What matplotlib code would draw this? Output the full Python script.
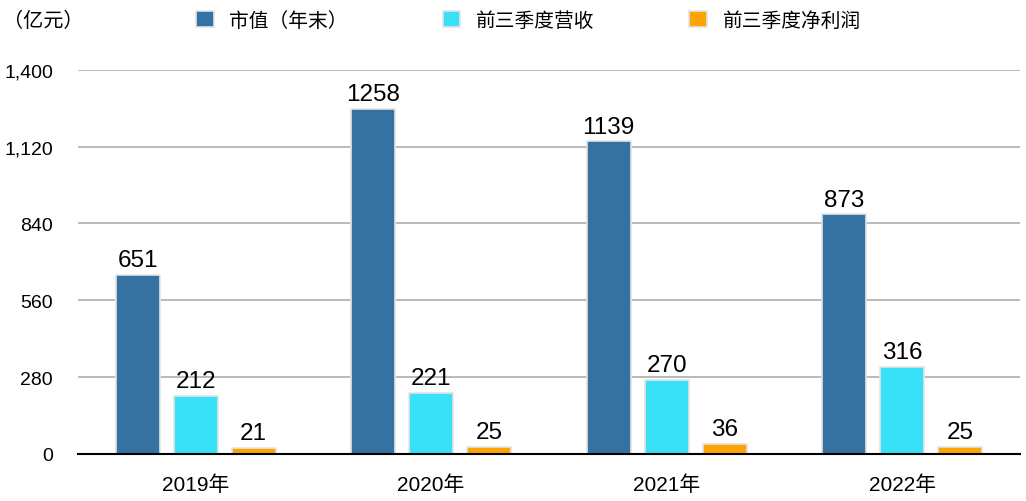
import numpy as np
import matplotlib.pyplot as plt

plt.rcParams['font.family'] = ['Liberation Sans', 'Noto Sans CJK SC']

years = ['2019年', '2020年', '2021年', '2022年']
market_cap = [651, 1258, 1139, 873]
revenue = [212, 221, 270, 316]
profit = [21, 25, 36, 25]

series = [('市值（年末）', market_cap, '#3572A1'),
          ('前三季度营收', revenue, '#38E1F6'),
          ('前三季度净利润', profit, '#FBA504')]

fig = plt.figure(figsize=(10.26, 5.02), dpi=100)
ax = fig.add_axes([0.076, 0.094, 0.918, 0.765])

x = np.arange(len(years))
width = 0.187
step = 0.246

for i, (name, vals, col) in enumerate(series):
    pos = x + (i - 1) * step
    bars = ax.bar(pos, vals, width, color=col, label=name,
                  edgecolor='#e4e4e4', linewidth=1.2, zorder=3)
    for b, v in zip(bars, vals):
        ax.text(b.get_x() + b.get_width() / 2, v + 14, str(v),
                ha='center', va='bottom', fontsize=17.5, zorder=4)

ax.set_xlim(-0.5, 3.5)
ax.set_ylim(0, 1400)
ax.set_yticks([0, 280, 560, 840, 1120, 1400])
ax.set_yticklabels(['0', '280', '560', '840', '1,120', '1,400'])
ax.set_xticks(x)
ax.set_xticklabels(years)
ax.tick_params(axis='y', length=0, pad=18, labelsize=14)
ax.tick_params(axis='x', length=0, pad=15, labelsize=15)
ax.yaxis.grid(True, color='#b4b4b4', linewidth=1.3, zorder=0)
for s in ['top', 'right', 'left']:
    ax.spines[s].set_visible(False)
ax.spines['bottom'].set_color('black')
ax.spines['bottom'].set_linewidth(1.5)
ax.spines['bottom'].set_zorder(5)

fig.text(0.003, 0.958, '（亿元）', fontsize=14.5, ha='left', va='center')

leg = fig.legend(loc='center', bbox_to_anchor=(0.515, 0.958), ncol=3,
                 frameon=False, fontsize=14.2, handlelength=0.9,
                 handleheight=0.9, handletextpad=0.8, columnspacing=4.8)

fig.savefig('out.png', dpi=100)
